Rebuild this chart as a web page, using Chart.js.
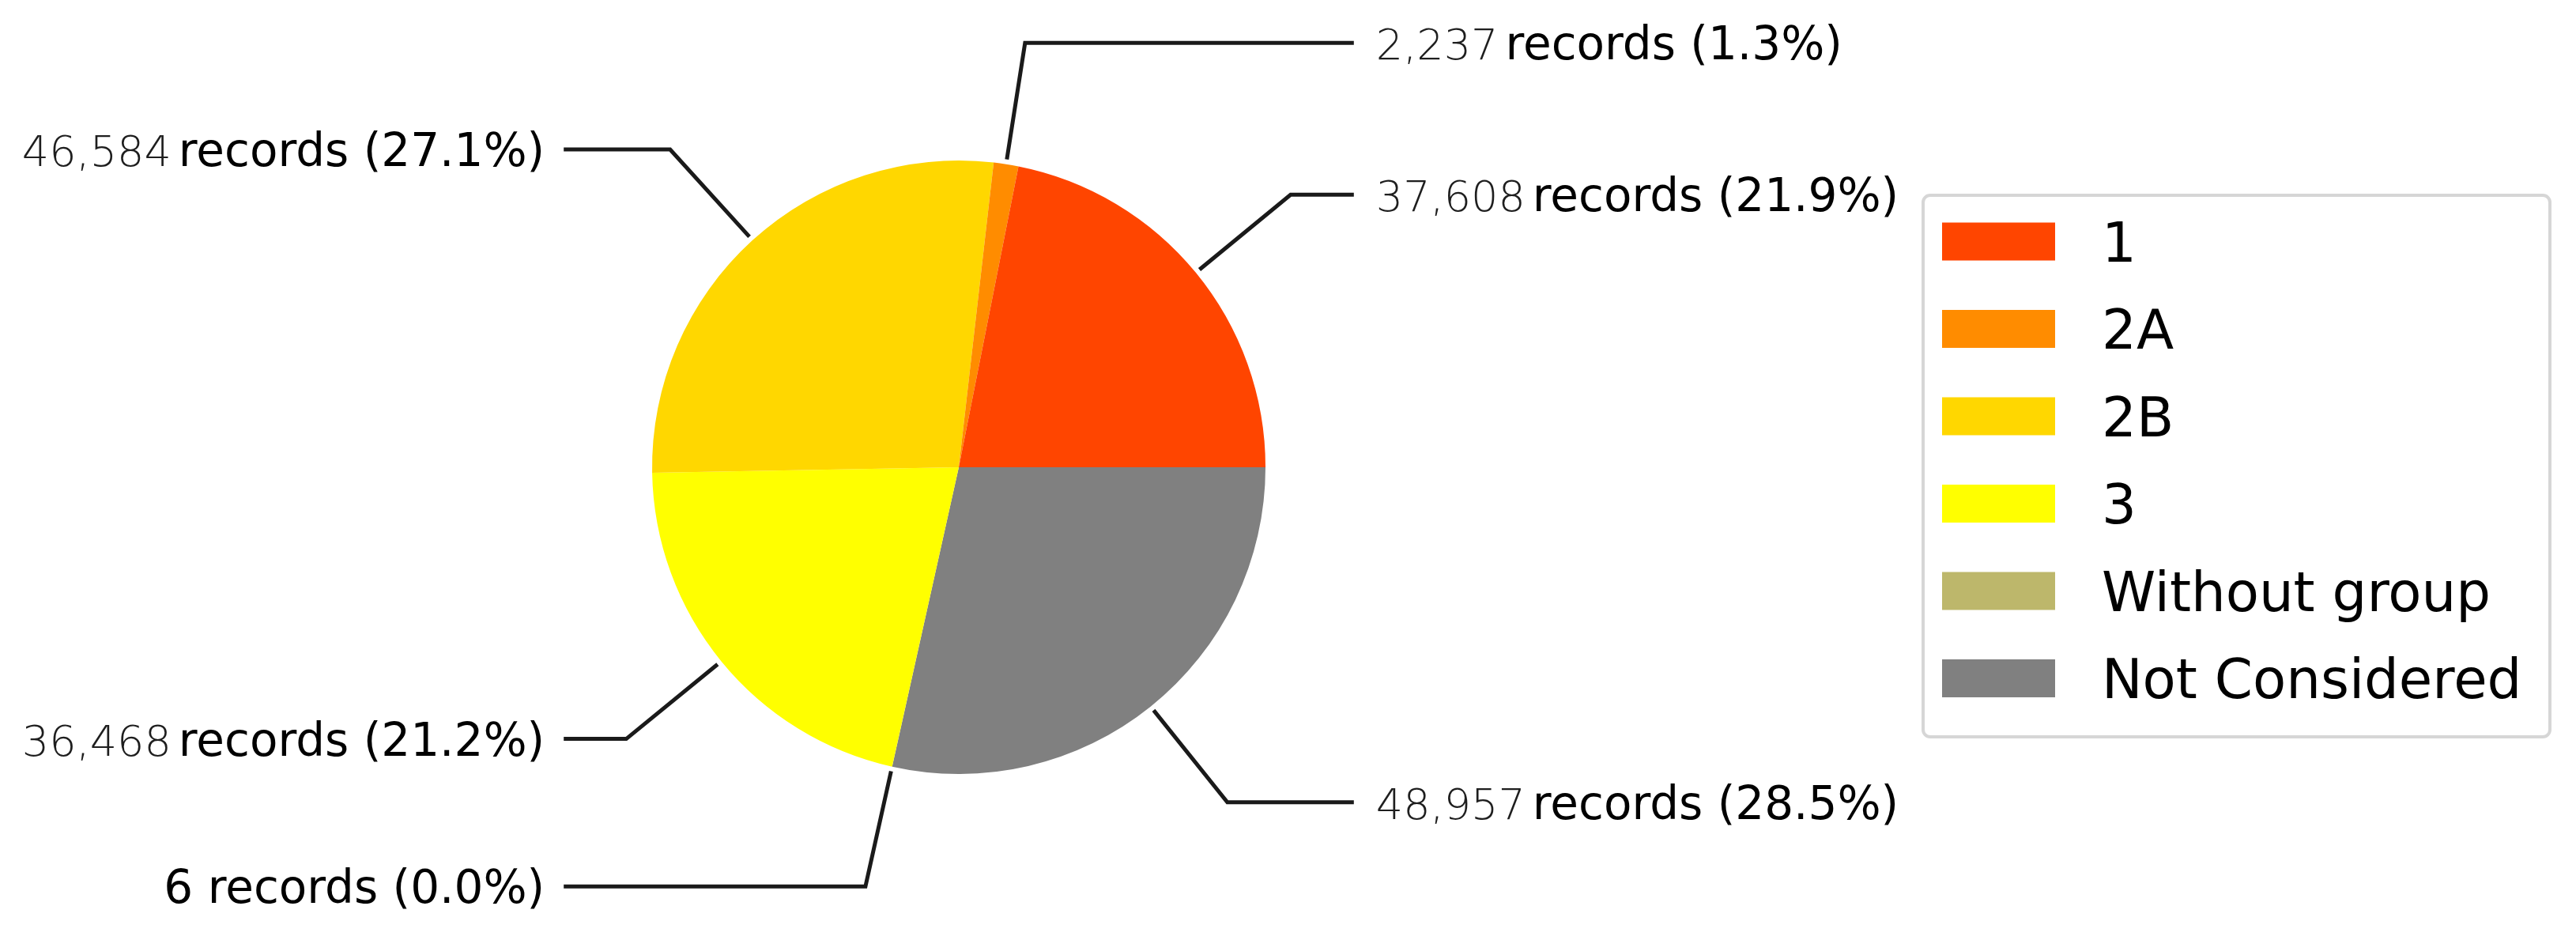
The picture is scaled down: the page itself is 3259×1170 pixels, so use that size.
<!DOCTYPE html>
<html>
<head>
<meta charset="utf-8">
<title>Records by group</title>
<script src="https://cdn.jsdelivr.net/npm/chart.js@4/dist/chart.umd.min.js"></script>
<style>
  html, body { margin: 0; padding: 0; background: #fff; }
  #wrap { width: 3259px; height: 1170px; }
</style>
</head>
<body>
<div id="wrap"><canvas id="groupPie" width="3259" height="1170"></canvas></div>
<script>
// legend order (matplotlib draws these counter-clockwise from 3 o'clock)
const groups = ['1', '2A', '2B', '3', 'Without group', 'Not Considered'];
const records = [37608, 2237, 46584, 36468, 6, 48957];
const groupColors = ['#FF4500', '#FF8C00', '#FFD700', '#FFFF00', '#BDB76B', '#808080'];

const total = records.reduce((a, b) => a + b, 0);

// Chart.js goes clockwise, so feed it the reversed order starting at 3 o'clock
const order = groups.map((_, i) => i).reverse();

const FONT = '"DejaVu Sans", sans-serif';

// leader lines + "N records (x%)" labels
const calloutPlugin = {
  id: 'callouts',
  afterDatasetsDraw(chart) {
    const ctx = chart.ctx;
    const arcs = chart.getDatasetMeta(0).data;
    ctx.save();
    arcs.forEach((arc, j) => {
      const idx = order[j];
      const a = (arc.startAngle + arc.endAngle) / 2;
      const R = arc.outerRadius;
      const cos = Math.cos(a), sin = Math.sin(a);
      const side = cos >= 0 ? 1 : -1;
      const tx = arc.x + side * 1.35 * R;
      const ty = arc.y + 1.4 * R * sin;

      // line: radial out from the wedge, then flat to the text
      ctx.strokeStyle = '#1a1a1a';
      ctx.lineWidth = 5;
      ctx.beginPath();
      ctx.moveTo(arc.x + (R + 6) * cos, arc.y + (R + 6) * sin);
      ctx.lineTo(arc.x + 1.4 * R * cos, ty);
      ctx.lineTo(tx - side * 24, ty);
      ctx.stroke();

      const v = records[idx];
      const pct = (v / total * 100).toFixed(1);
      const light = v >= 1000;
      const numTxt = v.toLocaleString('en-US');
      const restTxt = 'records (' + pct + '%)';
      const numFont = light ? '200 54px ' + FONT : '58px ' + FONT;
      const restFont = '58px ' + FONT;
      ctx.font = numFont;
      const wNum = ctx.measureText(numTxt).width;
      const gap = light ? 9 : ctx.measureText(' ').width;
      ctx.font = restFont;
      const wRest = ctx.measureText(restTxt).width;
      const full = wNum + gap + wRest;
      const x0 = side > 0 ? tx + 4 : tx - full;

      ctx.textAlign = 'left';
      ctx.textBaseline = 'alphabetic';
      const base = ty + 21;
      ctx.font = numFont;
      ctx.fillStyle = light ? '#1e1e1e' : '#000';
      ctx.fillText(numTxt, x0, base);
      ctx.font = restFont;
      ctx.fillStyle = '#000';
      ctx.fillText(restTxt, x0 + wNum + gap, base);
    });
    ctx.restore();
  }
};

// boxed legend on the right, in the original group order
const boxLegendPlugin = {
  id: 'boxLegend',
  afterDraw(chart) {
    const ctx = chart.ctx;
    const left = 2433, top = 247, right = 3226, bottom = 932;
    ctx.save();
    ctx.strokeStyle = '#d6d6d6';
    ctx.lineWidth = 4;
    ctx.beginPath();
    ctx.roundRect(left, top, right - left, bottom - top, 9);
    ctx.stroke();

    ctx.font = '69px ' + FONT;
    ctx.textAlign = 'left';
    ctx.textBaseline = 'alphabetic';
    groups.forEach((g, i) => {
      const cy = 305.5 + i * 110.5;
      ctx.fillStyle = groupColors[i];
      ctx.fillRect(2457, cy - 24, 143, 48);
      ctx.fillStyle = '#000';
      ctx.fillText(g, 2659, cy + 25);
    });
    ctx.restore();
  }
};

const ctx = document.getElementById('groupPie').getContext('2d');
new Chart(ctx, {
  type: 'pie',
  data: {
    labels: order.map(i => groups[i]),
    datasets: [{
      label: 'Records',
      data: order.map(i => records[i]),
      backgroundColor: order.map(i => groupColors[i]),
      borderWidth: 0
    }]
  },
  options: {
    responsive: false,
    animation: false,
    rotation: 90,
    layout: { padding: { left: 825, right: 1658, top: 203, bottom: 191 } },
    plugins: {
      legend: { display: false },
      tooltip: { enabled: false }
    }
  },
  plugins: [calloutPlugin, boxLegendPlugin]
});
</script>
</body>
</html>
